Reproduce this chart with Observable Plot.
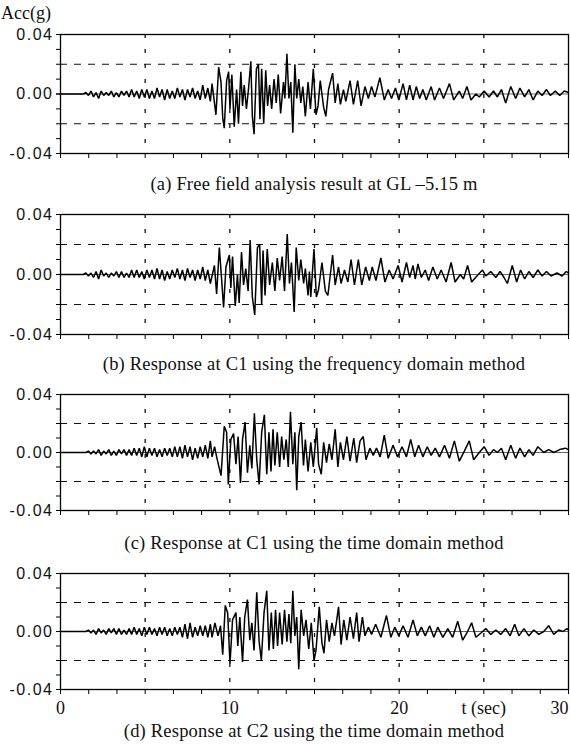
<!DOCTYPE html>
<html>
<head>
<meta charset="utf-8">
<script src="https://cdn.jsdelivr.net/npm/d3@7"></script>
<script src="https://cdn.jsdelivr.net/npm/@observablehq/plot@0.6"></script>
<style>
  html, body { margin: 0; padding: 0; background: #fff; }
  #root { position: relative; width: 570px; height: 744px; overflow: hidden; }
  .pnl { position: absolute; left: 0; }
  .cap { position: absolute; left: 60px; width: 508px; text-align: center;
         font-family: "Liberation Serif", "Times New Roman", serif; font-size: 18.5px; letter-spacing: 0.2px; line-height: 20px; color: #111; white-space: nowrap; }
  .ytitle { position: absolute; left: 1px; top: 2px; font-family: "Liberation Serif", serif; font-size: 18px; line-height: 22px; color: #111; }
  g[aria-label="y-axis tick label"] text { letter-spacing: 1.5px; }
</style>
</head>
<body>
<div id="root"></div>
<script>
// ---------- axis / grid values ----------
const yMinorTicks = [-0.04, -0.03, -0.02, -0.01, 0, 0.01, 0.02, 0.03, 0.04];
const yLabelValues = [-0.04, 0, 0.04];
const yLabelTexts = ["-0.04", "0.00", "0.04"];
const xMinorTicks = [0, 1.667, 3.333, 5, 6.667, 8.333, 10, 11.667, 13.333, 15, 16.667, 18.333, 20, 21.667, 23.333, 25, 26.667, 28.333, 30];
const hGrid = [-0.02, 0.02];
const vGrid = [5, 10, 15, 20, 25];
const xLabelValues = [0, 10, 20, 25];
const xLabelTexts = ["0", "10", "20", "t (sec)"];
const xLastLabelValue = [30];
const xLastLabelText = ["30"];

const captions = [
  "(a) Free field analysis result at GL \u20135.15 m",
  "(b) Response at C1 using the frequency domain method",
  "(c) Response at C1 using the time domain method",
  "(d) Response at C2 using the time domain method"
];

// ---------- waveform data (time in s, acceleration in g) ----------
const tQuiet = [0, 1.35];
const accQuiet = [0, 0];

const tNoise = [1.50,1.65,1.80,1.95,2.10,2.25,2.40,2.55,2.70,2.85,3.00,3.15,3.30,3.45,3.60,3.75,3.90,4.05,4.20,4.35,
  4.50,4.65,4.80,4.95,5.10,5.25,5.40,5.55,5.70,5.85,6.00,6.15,6.30,6.45,6.60,6.75,6.90,7.05,7.20,7.35,
  7.50,7.65,7.80,7.95,8.10,8.25,8.40,8.55,8.70,8.85];

const noiseA = [0.001,-0.001,0.002,-0.002,0.001,-0.003,0.002,-0.001,0.001,-0.001,
  0.002,-0.002,0.001,-0.002,0.002,-0.001,0.002,-0.002,0.003,-0.002,
  0.002,-0.003,0.003,-0.002,0.003,-0.003,0.002,-0.003,0.004,-0.002,
  0.003,-0.004,0.003,-0.003,0.002,-0.003,0.004,-0.002,0.003,-0.004,
  0.003,-0.002,0.004,-0.003,0.002,-0.004,0.006,-0.003,0.004,-0.005];
const noiseB = [0.001,-0.001,0.001,-0.002,0.002,-0.003,0.003,-0.001,0.001,-0.002,
  0.001,-0.001,0.002,-0.002,0.002,-0.002,0.001,-0.002,0.003,-0.002,
  0.003,-0.002,0.002,-0.003,0.003,-0.002,0.003,-0.003,0.004,-0.003,
  0.003,-0.004,0.002,-0.003,0.003,-0.002,0.004,-0.003,0.003,-0.004,
  0.004,-0.002,0.003,-0.004,0.003,-0.003,0.005,-0.004,0.003,-0.006];
const noiseC = [0.000,0.001,-0.001,0.001,-0.001,0.002,-0.002,0.001,-0.001,0.002,
  -0.002,0.001,-0.002,0.002,-0.001,0.002,-0.002,0.002,-0.002,0.003,
  -0.002,0.003,-0.003,0.004,-0.003,0.003,-0.002,0.003,-0.003,0.002,
  -0.003,0.003,-0.002,0.003,-0.003,0.004,-0.003,0.004,-0.004,0.005,
  -0.003,0.004,-0.005,0.003,-0.004,0.004,-0.003,0.005,-0.004,0.008];
const noiseD = [0.000,0.001,-0.001,0.001,-0.002,0.002,-0.001,0.001,-0.002,0.002,
  -0.001,0.002,-0.002,0.002,-0.002,0.001,-0.002,0.002,-0.002,0.003,
  -0.002,0.002,-0.003,0.003,-0.002,0.003,-0.002,0.002,-0.003,0.003,
  -0.002,0.003,-0.003,0.002,-0.003,0.003,-0.002,0.003,-0.004,0.005,
  -0.005,0.006,-0.004,0.003,-0.003,0.004,-0.003,0.004,-0.004,0.005];

// (a) free field
const tA = [8.95,9.18,9.34,9.48,9.58,9.67,9.81,9.93,10.01,10.12,10.26,10.40,10.51,10.65,10.75,10.85,10.98,11.10,11.24,11.33,
  11.43,11.57,11.69,11.78,11.88,12.00,12.12,12.23,12.35,12.47,12.61,12.74,12.86,13.00,13.17,13.25,13.37,13.49,13.60,13.72,
  13.84,13.95,14.07,14.19,14.31,14.46,14.62,14.76,14.93,15.09,15.21,15.34,15.54,15.67,15.83,16.07,16.22,16.38,16.53,16.71,
  16.85,17.10,17.30,17.55,17.75,17.98,18.18,18.37,18.57,
  18.86,19.12,19.35,19.55,19.78,19.98,20.23,20.43,20.62,20.82,21.01,21.21,21.40,21.60,21.89,22.09,22.38,22.62,22.97,23.22,
  23.55,23.75,24.00,24.24,24.53,24.73,25.02,25.31,25.57,25.80,26.04,26.29,26.59,26.88,27.13,27.41,27.66,27.91,28.19,28.44,
  28.70,28.93,29.22,29.48,29.75,30.0];
const accA = [0.007,-0.014,0.018,0.008,-0.016,-0.023,0.009,0.015,-0.010,0.013,-0.022,0.003,-0.020,0.015,-0.008,0.006,-0.010,0.003,0.022,-0.015,
  -0.027,0.017,0.020,-0.017,0.017,-0.020,0.016,-0.008,0.006,-0.010,0.010,-0.006,0.013,-0.013,0.008,-0.003,0.027,-0.003,0.008,-0.026,
  0.020,-0.003,0.010,-0.006,0.005,-0.015,0.008,-0.010,0.017,-0.014,-0.008,0.009,-0.009,-0.015,0.003,0.014,-0.006,0.007,-0.007,0.003,
  -0.005,0.009,-0.007,0.009,-0.008,0.005,-0.003,0.005,-0.002,
  0.011,-0.004,0.003,-0.003,0.004,-0.004,0.007,-0.004,0.006,-0.004,0.005,-0.003,0.003,-0.004,0.005,-0.004,0.004,-0.003,0.007,-0.004,
  0.002,-0.003,0.005,-0.004,0.000,-0.002,0.002,-0.002,0.002,-0.002,0.003,-0.006,0.005,-0.003,0.004,-0.002,0.003,-0.004,0.002,-0.001,
  0.003,-0.001,0.002,-0.001,0.002,0.001];

// (b) C1, frequency domain
const tB = [9.09,9.22,9.38,9.52,9.63,9.77,9.97,10.06,10.16,10.32,10.45,10.55,10.69,10.81,10.94,11.08,11.20,11.33,11.47,11.63,
  11.76,11.88,11.96,12.08,12.21,12.35,12.51,12.66,12.80,12.94,13.09,13.23,13.39,13.52,13.64,13.80,13.92,14.07,14.19,14.36,
  14.46,14.62,14.70,14.78,14.97,15.11,15.24,15.44,15.64,15.79,16.07,16.22,16.42,16.57,16.77,16.97,17.16,17.36,17.59,17.79,
  18.02,18.24,18.41,18.63,
  18.92,19.16,19.41,19.64,19.94,20.17,20.43,20.62,20.82,20.95,21.11,21.31,21.54,21.74,21.99,22.25,22.48,22.77,23.07,23.30,
  23.61,23.81,24.04,24.28,24.59,24.92,25.12,25.41,25.71,25.96,26.19,26.39,26.68,26.94,27.17,27.41,27.66,27.91,28.19,28.44,
  28.70,28.97,29.32,29.62,29.87,30.0];
const accB = [0.006,-0.013,0.018,-0.004,-0.022,0.005,0.013,-0.009,0.012,-0.021,0.000,-0.019,0.015,-0.007,0.004,-0.011,0.023,-0.015,-0.027,0.018,
  0.020,-0.020,0.016,-0.014,0.017,-0.007,0.008,-0.011,0.011,-0.004,0.012,-0.011,0.027,-0.006,0.008,-0.025,0.018,-0.004,0.010,-0.006,
  0.004,-0.014,0.002,-0.015,0.017,-0.015,-0.010,0.008,-0.011,-0.014,0.013,-0.007,0.005,-0.006,0.003,-0.005,0.010,-0.007,0.010,-0.007,
  0.005,-0.004,0.005,-0.004,
  0.011,-0.005,0.003,-0.003,0.006,-0.005,0.008,-0.002,0.006,-0.003,0.007,-0.002,0.003,-0.004,0.005,-0.003,0.003,-0.005,0.008,-0.005,
  0.000,-0.003,0.006,-0.005,-0.001,0.003,-0.001,0.002,-0.002,0.002,-0.002,-0.006,0.006,-0.005,0.003,-0.003,0.002,-0.002,0.003,-0.001,
  0.002,-0.001,0.001,-0.001,0.002,0.001];

// (c) C1, time domain
const tC = [8.95,9.10,9.22,9.48,9.67,9.81,9.91,10.06,10.22,10.36,10.49,10.63,10.75,10.90,11.04,11.18,11.30,11.45,11.59,11.73,
  11.88,12.04,12.18,12.31,12.43,12.55,12.66,12.80,12.94,13.06,13.19,13.33,13.45,13.58,13.72,13.84,13.95,14.07,14.21,14.35,
  14.46,14.62,14.78,14.93,15.13,15.24,15.40,15.54,15.71,15.87,16.03,16.22,16.38,16.53,16.71,16.91,17.10,17.32,17.49,17.69,
  17.88,18.04,18.27,18.47,18.66,
  18.88,19.12,19.35,19.64,19.90,20.17,20.43,20.68,20.92,21.15,21.40,21.66,21.89,22.13,22.38,22.68,22.97,23.26,23.55,23.85,
  24.14,24.40,24.73,25.02,25.31,25.57,25.80,26.04,26.29,26.59,26.88,27.13,27.41,27.66,27.91,28.19,28.54,28.83,29.13,29.48,
  29.81,30.0];
const accC = [-0.003,0.004,-0.003,-0.016,0.018,0.014,-0.022,0.009,0.013,-0.008,0.011,-0.021,0.009,0.021,-0.014,0.005,-0.011,0.027,-0.005,-0.022,
  0.014,0.026,-0.015,0.014,-0.013,0.016,-0.009,0.014,-0.010,0.011,-0.005,0.009,-0.010,0.028,-0.008,0.014,-0.026,0.011,0.021,-0.009,
  0.009,-0.013,0.007,-0.010,0.017,-0.008,-0.015,0.007,-0.007,0.006,-0.005,0.016,-0.010,0.007,-0.005,0.011,-0.006,0.010,-0.007,0.008,
  0.011,-0.005,0.003,-0.002,0.003,
  -0.003,0.012,-0.004,0.005,-0.003,0.004,-0.003,0.009,-0.003,0.005,-0.003,0.004,-0.002,0.003,-0.003,0.005,-0.004,0.008,-0.006,0.001,
  0.008,-0.005,0.000,0.004,-0.002,0.002,0.000,0.003,-0.005,0.005,-0.004,0.003,-0.003,0.002,-0.002,0.004,0.000,0.002,0.000,0.002,
  0.003,0.002];

// (d) C2, time domain
const tD = [8.95,9.12,9.30,9.45,9.58,9.73,9.87,10.01,10.16,10.36,10.47,10.59,10.75,10.88,11.04,11.18,11.30,11.43,11.59,11.73,
  11.86,12.02,12.18,12.31,12.45,12.57,12.70,12.82,12.94,13.09,13.23,13.37,13.49,13.60,13.72,13.84,13.95,14.07,14.21,14.36,
  14.50,14.66,14.81,14.97,15.09,15.28,15.44,15.56,15.71,15.87,16.03,16.18,16.42,16.57,16.73,16.91,17.10,17.30,17.49,17.63,
  17.83,17.98,18.18,18.37,18.61,
  18.92,19.25,19.51,19.74,19.98,20.23,20.52,20.82,21.07,21.31,21.54,21.80,22.05,22.28,22.58,22.87,23.16,23.46,23.75,24.00,
  24.28,24.53,24.83,25.12,25.41,25.71,26.00,26.29,26.55,26.82,27.07,27.37,27.66,27.95,28.25,28.54,28.83,29.13,29.42,29.67,
  29.91,30.0];
const accD = [-0.004,0.006,-0.003,0.004,-0.016,0.018,0.013,-0.022,0.008,0.013,-0.010,0.010,-0.021,0.010,0.022,-0.006,0.006,-0.013,0.027,-0.007,
  -0.020,0.013,0.028,-0.013,0.013,-0.012,0.015,-0.010,0.013,-0.009,0.015,-0.007,0.012,-0.008,0.028,-0.003,0.010,-0.026,0.015,-0.003,
  0.008,-0.012,0.006,-0.020,-0.013,0.017,-0.008,-0.015,0.008,-0.007,0.006,-0.003,0.017,-0.009,0.008,-0.006,0.010,-0.005,0.013,-0.007,
  0.010,-0.003,0.003,-0.002,0.005,
  -0.004,0.011,-0.004,0.003,-0.003,0.004,-0.004,0.008,-0.003,0.003,-0.003,0.004,-0.004,0.003,-0.004,0.002,-0.004,0.007,-0.006,-0.001,
  0.006,-0.004,-0.001,0.002,-0.002,0.001,-0.002,0.002,-0.003,0.005,-0.003,0.002,-0.003,0.001,-0.002,0.000,0.004,-0.002,0.001,0.000,
  0.002,0.001];

// ---------- build ----------
function buildSeries(noise, ts, vs) {
  const pts = tQuiet.map((t, i) => ({t, v: accQuiet[i]}));
  tNoise.forEach((t, i) => pts.push({t, v: noise[i]}));
  ts.forEach((t, i) => pts.push({t, v: vs[i]}));
  return pts;
}

const yLabelMap = new Map(yLabelValues.map((d, i) => [d, yLabelTexts[i]]));

function makePanel(data, height, marginBottom, withXLabels) {
  const marks = [
    Plot.ruleY(hGrid, {stroke: "#111", strokeWidth: 1.1, strokeDasharray: "7,7"}),
    Plot.ruleX(vGrid, {stroke: "#111", strokeWidth: 1.3, strokeDasharray: "4,11"}),
    Plot.ruleY([0], {stroke: "#222", strokeWidth: 0.7}),
    Plot.line(data, {x: "t", y: "v", stroke: "#000", strokeWidth: 1.5, strokeLinejoin: "miter"}),
    Plot.frame({stroke: "#000", strokeWidth: 1.3}),
    Plot.axisY(yMinorTicks, {tickSize: 4, tickFormat: () => "", label: null, stroke: "#000"}),
    Plot.axisY(yLabelValues, {tickSize: 4, tickPadding: 3, tickFormat: d => yLabelMap.get(d), label: null,
      fontSize: 16, fontFamily: "Liberation Sans, Arial, sans-serif", fill: "#111", stroke: "#000"}),
    Plot.axisX(xMinorTicks, {tickSize: 5, tickFormat: () => "", label: null, stroke: "#000"})
  ];
  if (withXLabels) {
    marks.push(Plot.text(xLabelValues, {x: d => d, text: (d, i) => xLabelTexts[i], frameAnchor: "bottom",
      lineAnchor: "top", dy: 12, fontSize: 18, fontFamily: "Liberation Serif, Times New Roman, serif", fill: "#111"}));
    marks.push(Plot.text(xLastLabelValue, {x: d => d, text: (d, i) => xLastLabelText[i], frameAnchor: "bottom",
      lineAnchor: "top", dy: 12, textAnchor: "end", fontSize: 18, fontFamily: "Liberation Serif, Times New Roman, serif", fill: "#111"}));
  }
  return Plot.plot({
    width: 570, height, marginLeft: 60, marginRight: 2, marginTop: 8, marginBottom,
    x: {domain: [0, 30], axis: null},
    y: {domain: [-0.04, 0.04], axis: null},
    style: {background: "transparent", overflow: "visible", color: "#000"},
    marks
  });
}

const panels = [
  {data: buildSeries(noiseA, tA, accA), top: 26, height: 141, mb: 14, xl: false, capY: 174},
  {data: buildSeries(noiseB, tB, accB), top: 206, height: 142, mb: 14, xl: false, capY: 354},
  {data: buildSeries(noiseC, tC, accC), top: 386, height: 138, mb: 14, xl: false, capY: 533},
  {data: buildSeries(noiseD, tD, accD), top: 565, height: 156, mb: 32, xl: true, capY: 721}
];

const root = document.getElementById("root");
const title = document.createElement("div");
title.className = "ytitle";
title.textContent = "Acc(g)";
root.appendChild(title);

panels.forEach((p, i) => {
  const wrap = document.createElement("div");
  wrap.className = "pnl";
  wrap.style.top = p.top + "px";
  wrap.appendChild(makePanel(p.data, p.height, p.mb, p.xl));
  root.appendChild(wrap);
  const cap = document.createElement("div");
  cap.className = "cap";
  cap.style.top = p.capY + "px";
  cap.textContent = captions[i];
  root.appendChild(cap);
});
</script>
</body>
</html>
